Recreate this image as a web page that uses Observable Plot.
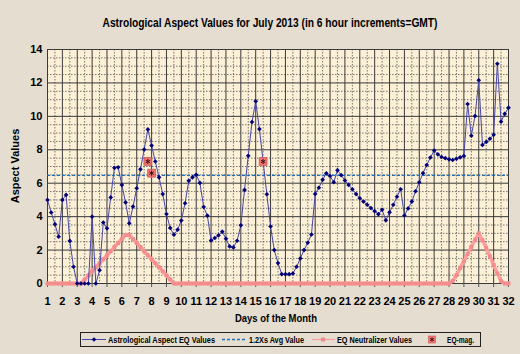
<!DOCTYPE html>
<html><head><meta charset="utf-8">
<script src="https://cdn.jsdelivr.net/npm/d3@7"></script>
<script src="https://cdn.jsdelivr.net/npm/@observablehq/plot@0.6"></script>
<style>
body{margin:0;background:#e4ddd0;font-family:"Liberation Sans",Arial,sans-serif;}
#wrap{position:relative;width:520px;height:354px;overflow:hidden;background:#e4ddd0;}
#chart{position:absolute;left:0;top:0;}
#overlay{position:absolute;left:0;top:0;}
</style></head><body>
<div id="wrap"><div id="chart"></div><svg id="overlay" width="520" height="354"></svg></div>
<script>
// ---- data ----
const titleText = "Astrological Aspect Values for July 2013 (in 6 hour increments=GMT)";
const xLabel = "Days of the Month";
const yLabel = "Aspect Values";
const legendLabels = ["Astrological Aspect EQ Values", "1.2Xs Avg Value", "EQ Neutralizer Values", "EQ-mag."];
const startDay = 1;          // first sample, day 1 00:00 GMT
const samplesPerDay = 4;     // 6-hour increments
const aspectValues = [
  5.0, 4.25, 3.55, 2.8,
  5.0, 5.3, 2.55, 1.0,
  0, 0, 0, 0,
  4.0, 0, 0.8, 3.65,
  3.3, 5.15, 6.92, 6.95,
  5.9, 4.85, 3.6, 4.6,
  5.7, 6.83, 8.02, 9.22,
  8.25, 7.3, 6.35, 5.35,
  4.16, 3.32, 2.92, 3.22,
  3.77, 4.8, 6.14, 6.35,
  6.5, 6.02, 4.58, 4.06,
  2.58, 2.72, 2.88, 3.1,
  2.68, 2.22, 2.16, 2.56,
  3.48, 5.6, 7.64, 9.66,
  10.9, 9.24, 7.3, 5.34,
  3.41, 2.0, 1.22, 0.56,
  0.56, 0.56, 0.6, 1.0,
  1.5, 2.0, 2.44, 2.93,
  5.36, 5.73, 6.21, 6.59,
  6.43, 6.06, 6.78, 6.48,
  6.16, 5.9, 5.64, 5.35,
  5.1, 4.9, 4.71, 4.51,
  4.33, 4.15, 4.41, 3.78,
  4.26, 4.71, 5.19, 5.64,
  4.07, 4.49, 4.9, 5.52,
  6.06, 6.6, 7.09, 7.54,
  7.95, 7.73, 7.57, 7.5,
  7.43, 7.39, 7.47, 7.55,
  7.63, 10.74, 8.84, 10.02,
  12.16, 8.29, 8.47, 8.66,
  8.9, 13.15, 9.68, 10.15,
  10.52
];
const neutralizerValues = [
  0, 0, 0, 0,
  0, 0, 0, 0,
  0, 0, 0.24, 0.48,
  0.73, 0.97, 1.21, 1.45,
  1.69, 1.93, 2.18, 2.42,
  2.66, 2.9, 2.9, 2.66,
  2.42, 2.18, 1.93, 1.69,
  1.45, 1.21, 0.97, 0.73,
  0.48, 0.24, 0, 0,
  0, 0, 0, 0,  0, 0, 0, 0,  0, 0, 0, 0,  0, 0, 0, 0,
  0, 0, 0, 0,  0, 0, 0, 0,  0, 0, 0, 0,  0, 0, 0, 0,
  0, 0, 0, 0,  0, 0, 0, 0,  0, 0, 0, 0,  0, 0, 0, 0,
  0, 0, 0, 0,  0, 0, 0, 0,  0, 0, 0, 0,  0, 0, 0, 0,
  0, 0, 0, 0,  0, 0, 0, 0,
  0, 0.15, 0.5, 0.93,
  1.33, 1.76, 2.19, 2.62,
  3.0, 2.58, 2.14, 1.63,
  1.11, 0.6, 0.14, 0,
  0
];
const avgValue = 6.47;
const eqMagDays = [7.75, 8.0, 15.5];
const eqMagValues = [7.3, 6.6, 7.3];
const xTicks = d3.range(1, 33);
const yTicks = [0, 2, 4, 6, 8, 10, 12, 14];

// ---- tables ----
const aspect = aspectValues.map((v, i) => ({day: startDay + i / samplesPerDay, v}));
const neutral = neutralizerValues.map((v, i) => ({day: startDay + i / samplesPerDay, v}));
const eqMag = eqMagDays.map((d, i) => ({day: d, v: eqMagValues[i]}));
const xMinor = xTicks.slice(0, -1).map(d => d + 0.5);
const yMinor = d3.range(0, 14.01, 0.5).filter(v => v % 2 !== 0);

const chart = Plot.plot({
  width: 520, height: 310,
  marginLeft: 47, marginRight: 12, marginTop: 49, marginBottom: 27,
  x: {domain: [1, 32]},
  y: {domain: [0, 14]},
  style: {background: "transparent", fontFamily: "'Liberation Sans', Arial, sans-serif", fontSize: "11px", fontWeight: "bold", color: "#000"},
  marks: [
    Plot.frame({fill: "#fcf0d7"}),
    Plot.ruleX(xMinor, {stroke: "#555", strokeDasharray: "1.5,1.5", strokeWidth: 0.8}),
    Plot.ruleY(yMinor, {stroke: "#555", strokeDasharray: "1.5,1.5", strokeWidth: 0.8}),
    Plot.ruleX(xTicks, {stroke: "#3a3a3a", strokeWidth: 1}),
    Plot.ruleY(yTicks, {stroke: "#3a3a3a", strokeWidth: 1}),
    Plot.axisX({ticks: xTicks, tickSize: 4, tickPadding: 10, tickFormat: d => String(d), label: null, stroke: "#555"}),
    Plot.axisY({ticks: yTicks, tickSize: 0, tickPadding: 5, tickFormat: d => String(d), label: null}),
    Plot.line(neutral, {x: "day", y: "v", stroke: "#ff9e9e", strokeWidth: 3.5}),
    Plot.dot(neutral, {x: "day", y: "v", symbol: "square", r: 2.2, fill: "#f58c8c"}),
    Plot.ruleY([avgValue], {stroke: "#1f6fc0", strokeDasharray: "3,2", strokeWidth: 1.3}),
    Plot.line(aspect, {x: "day", y: "v", stroke: "#4646aa", strokeWidth: 1}),
    Plot.dot(aspect, {x: "day", y: "v", symbol: "diamond2", r: 2.1, fill: "#000078"}),
    Plot.dot(eqMag, {x: "day", y: "v", symbol: "square", r: 4.4, fill: "#f27878", stroke: "#c85050", strokeWidth: 0.8}),
    Plot.dot(eqMag, {x: "day", y: "v", symbol: "asterisk", r: 2.4, stroke: "#401010", strokeWidth: 1})
  ]
});
document.getElementById("chart").appendChild(chart);

// ---- overlay texts and legend ----
const svg = d3.select("#overlay");
const font = "'Liberation Sans', Arial, sans-serif";
svg.append("text").attr("x", 270).attr("y", 27).attr("text-anchor", "middle")
  .attr("font-family", font).attr("font-weight", "bold").attr("font-size", 12)
  .attr("textLength", 335).attr("lengthAdjust", "spacingAndGlyphs").text(titleText);
svg.append("text").attr("transform", "translate(19,166) rotate(-90)").attr("text-anchor", "middle")
  .attr("font-family", font).attr("font-weight", "bold").attr("font-size", 11).text(yLabel);
svg.append("text").attr("x", 276).attr("y", 322).attr("text-anchor", "middle")
  .attr("font-family", font).attr("font-weight", "bold").attr("font-size", 11)
  .attr("textLength", 82).attr("lengthAdjust", "spacingAndGlyphs").text(xLabel);

const lg = svg.append("g");
lg.append("rect").attr("x", 80.5).attr("y", 332.5).attr("width", 400).attr("height", 14)
  .attr("fill", "none").attr("stroke", "#222").attr("stroke-width", 1);
const ly = 339.5;
lg.append("line").attr("x1", 82).attr("x2", 106).attr("y1", ly).attr("y2", ly).attr("stroke", "#4646aa");
lg.append("path").attr("d", d3.symbol(d3.symbolDiamond2, 14)()).attr("transform", `translate(94,${ly})`).attr("fill", "#000078");
lg.append("line").attr("x1", 222).attr("x2", 247).attr("y1", ly).attr("y2", ly).attr("stroke", "#1f6fc0").attr("stroke-width", 1.3).attr("stroke-dasharray", "3,2");
lg.append("line").attr("x1", 312).attr("x2", 335).attr("y1", ly).attr("y2", ly).attr("stroke", "#ff9e9e").attr("stroke-width", 1.2);
lg.append("rect").attr("x", 321).attr("y", ly - 2).attr("width", 4).attr("height", 4).attr("fill", "#f58c8c");
lg.append("rect").attr("x", 428.5).attr("y", ly - 3.5).attr("width", 7).attr("height", 7).attr("fill", "#f27878").attr("stroke", "#c85050").attr("stroke-width", 0.6);
lg.append("path").attr("d", d3.symbol(d3.symbolAsterisk, 12)()).attr("transform", `translate(432,${ly})`).attr("stroke", "#401010").attr("fill", "none");
const legX = [108, 249, 337, 447];
const legW = [107, 55, 75, 27];
legendLabels.forEach((t, i) => {
  lg.append("text").attr("x", legX[i]).attr("y", ly + 3.3)
    .attr("font-family", font).attr("font-weight", "bold").attr("font-size", 9.5)
    .attr("textLength", legW[i]).attr("lengthAdjust", "spacingAndGlyphs").text(t);
});
</script>
</body></html>
